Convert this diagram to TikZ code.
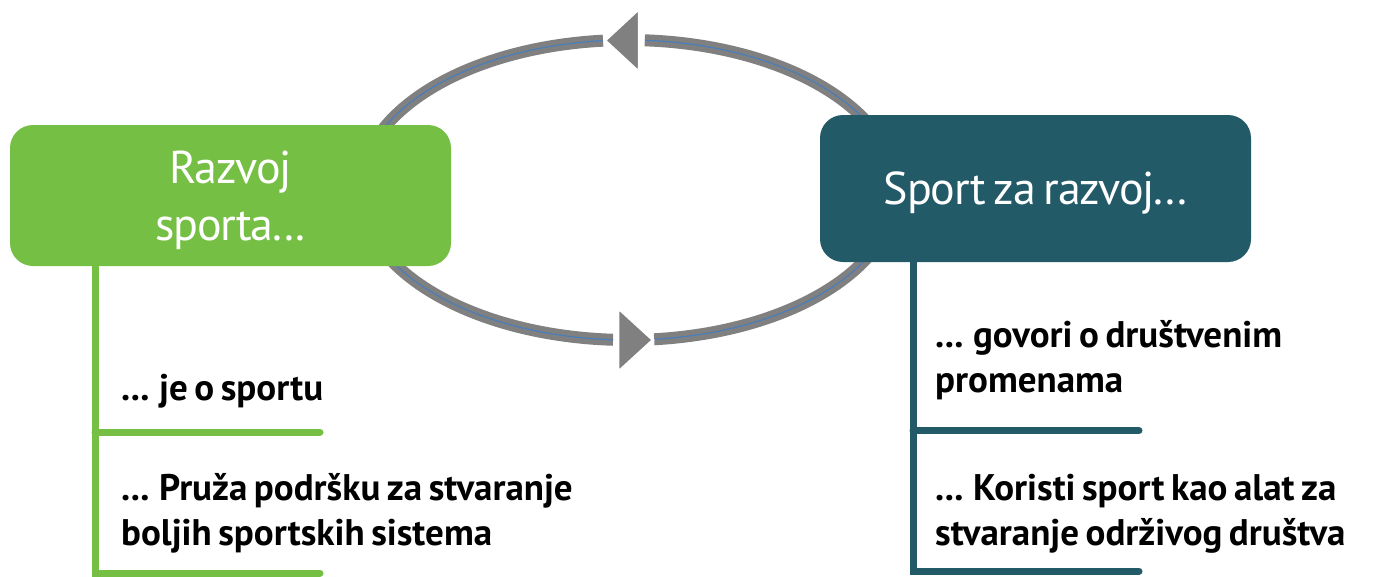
\documentclass[tikz,border=0pt]{standalone}
\usepackage{fontspec}
\setmainfont{PT Sans}[WordSpace=0.7]
\usetikzlibrary{calc}

\definecolor{razvojgreen}{RGB}{117,191,68}
\definecolor{sportteal}{RGB}{35,90,104}
\definecolor{ringgray}{RGB}{128,128,128}
\definecolor{ringblue}{RGB}{74,126,187}

\tikzset{
  headbox/.style={rounded corners=23pt, text=white, align=center, inner sep=0pt,
    text depth=0pt, font=\fontsize{46}{57}\selectfont\addfontfeature{LetterSpace=-2.5}},
  itemtext/.style={anchor=base west, align=left, inner sep=0pt,
    font=\fontsize{37}{45}\selectfont\bfseries},
  ringline/.style={draw=ringgray, line width=12pt,
    postaction={draw=ringblue, line width=1.2pt}},
  ringhead/.style={fill=ringgray, draw=white, line width=2.5pt, line join=miter},
  stemline/.style={line width=7pt, line join=miter, line cap=round},
}

\begin{document}
\begin{tikzpicture}[x=1pt,y=-1pt]
  \useasboundingbox (0,0) rectangle (1377,576);

  % the ring between the two boxes
  \coordinate (ring) at (628,190);
  \draw[ringline] ($(ring)+(-86.4:268 and 150)$)
    arc[start angle=-86.4, end angle=84.4, x radius=268, y radius=150];
  \draw[ringline] ($(ring)+(-95.35:268 and 150)$)
    arc[start angle=-95.35, end angle=-266.8, x radius=268, y radius=150];
  \filldraw[ringhead] (605,40.5) -- (639,9) -- (639,72) -- cycle;
  \filldraw[ringhead] (653,340) -- (618,308) -- (618,372) -- cycle;

  % stems under the boxes
  \coordinate (lj1) at (95,432); \coordinate (lj2) at (95,573);
  \coordinate (le1) at (320,432); \coordinate (le2) at (320,573);
  \coordinate (rj1) at (913,430.5); \coordinate (rj2) at (913,571);
  \coordinate (re1) at (1139,430.5); \coordinate (re2) at (1139,571);

  \draw[stemline, razvojgreen] (lj1 |- 0,220) -- (lj2) -- (le2);
  \draw[stemline, razvojgreen] (lj1) -- (le1);
  \draw[stemline, sportteal] (rj1 |- 0,220) -- (rj2) -- (re2);
  \draw[stemline, sportteal] (rj1) -- (re1);

  % boxes
  \node[headbox, fill=razvojgreen, minimum width=441pt, minimum height=141pt]
    (razvoj) at (230.5,195.5) {Razvoj\\sporta...};
  \node[headbox, fill=sportteal, minimum width=431pt, minimum height=147pt]
    (sportza) at (1035.5,188.5) {Sport za razvoj...};

  % items (base = last line)
  \node[itemtext] (jeo) at (121,400) {... je o sportu};
  \node[itemtext] (pruza) at (121,545) {... Pruža podršku za stvaranje\\boljih sportskih sistema};
  \node[itemtext] (govori) at (935,392) {... govori o društvenim\\promenama};
  \node[itemtext] (koristi) at (935,545) {... Koristi sport kao alat za\\stvaranje održivog društva};
\end{tikzpicture}
\end{document}
